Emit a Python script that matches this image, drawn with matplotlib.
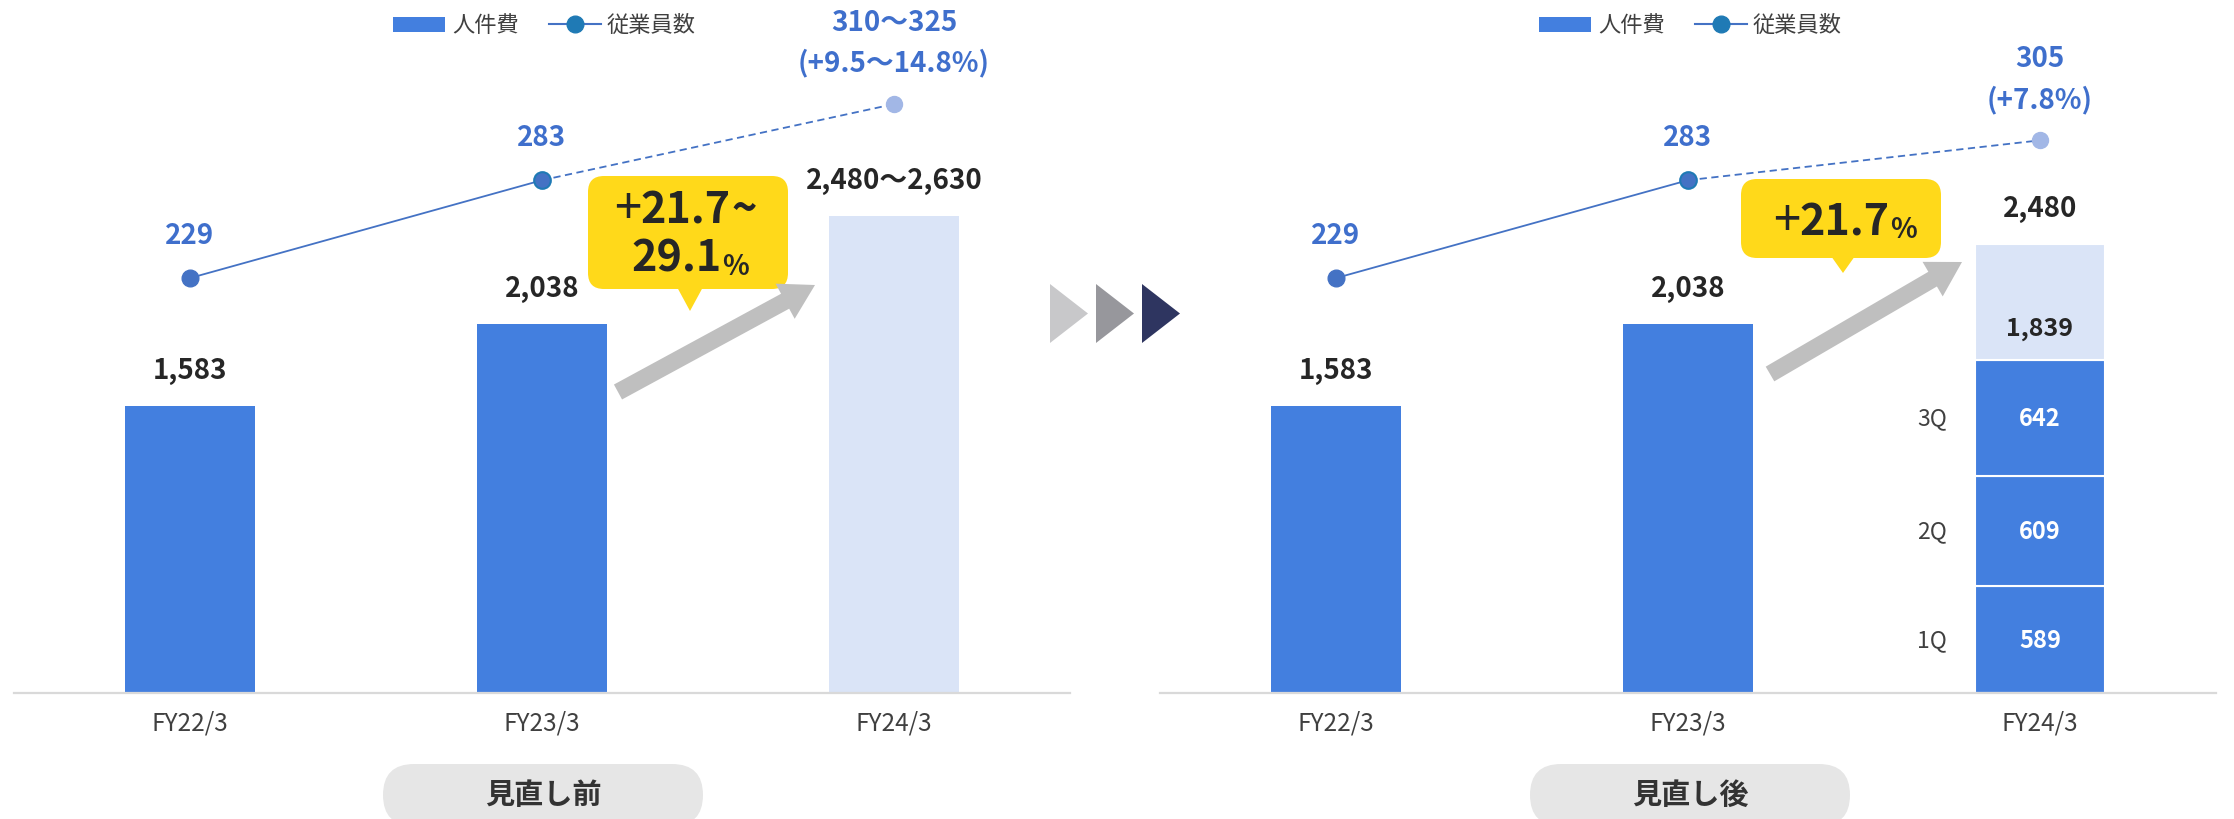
import matplotlib
matplotlib.use('Agg')
import matplotlib.pyplot as plt
from matplotlib.patches import FancyBboxPatch, Polygon, Rectangle, FancyArrow
from matplotlib.lines import Line2D

plt.rcParams['font.family'] = ['Noto Sans CJK JP', 'DejaVu Sans']

# ---------------- data ----------------
categories = ['FY22/3', 'FY23/3', 'FY24/3']

cost_before = [1583, 2038, 2630]          # FY24/3 plan: 2,480～2,630 (bar drawn to upper end)
cost_before_labels = ['1,583', '2,038', '2,480～2,630']
emp_before = [229, 283, 325]
emp_before_labels = [['229'], ['283'], ['310～325', '(+9.5～14.8%)']]

cost_after = [1583, 2038, 2480]
cost_after_labels = ['1,583', '2,038', '2,480']
quarters = ['1Q', '2Q', '3Q']
quarter_values = [589, 609, 642]
cumulative_label = '1,839'
emp_after = [229, 283, 305]
emp_after_labels = [['229'], ['283'], ['305', '(+7.8%)']]

growth_before = ['21.7', '~', '29.1']
growth_after = '21.7'
panel_titles = ['見直し前', '見直し後']
legend_labels = ['人件費', '従業員数']

# ---------------- style ----------------
BLUE = '#437FDF'
LIGHT = '#DAE4F7'
LINE = '#4472C4'
EMP_TXT = '#3F6FCC'
TEAL = '#1F7AB5'
DOT3 = '#A2B7E6'
DARK = '#262626'
GRAY = '#404040'
YELLOW = '#FFD91A'
ARROW = '#BFBFBF'
PILL = '#E6E6E6'

W, H = 2234, 820
PX_PER_UNIT = 0.1812
fig = plt.figure(figsize=(W / 100, H / 100), dpi=100)


def axes_rect(x0, y_top, x1, y_bot):
    return [x0 / W, 1 - y_bot / H, (x1 - x0) / W, (y_bot - y_top) / H]


AX_TOP, AX_BOT = 20, 694
YMAX = (AX_BOT - AX_TOP) / PX_PER_UNIT


def draw_panel(x0, costs, cost_labels, emps, emp_labels, stacked):
    ax = fig.add_axes(axes_rect(x0, AX_TOP, x0 + 1056, AX_BOT))
    ax.set_xlim(-0.5, 2.5)
    ax.set_ylim(0, YMAX)
    for s in ['top', 'left', 'right']:
        ax.spines[s].set_visible(False)
    ax.spines['bottom'].set_color('#D9D9D9')
    ax.spines['bottom'].set_linewidth(1.6)
    ax.set_yticks([])
    xs = list(range(len(categories)))
    ax.set_xticks(xs, categories)
    ax.tick_params(axis='x', length=0, pad=12, labelsize=17.5, labelcolor=GRAY)
    bw = 0.37
    ax.bar(xs[:2], costs[:2], bw, color=BLUE, zorder=2)
    if not stacked:
        ax.bar(xs[2], costs[2], bw, color=LIGHT, zorder=2)
    else:
        bottom = 0
        for q, v in zip(quarters, quarter_values):
            ax.bar(xs[2], v, bw, bottom=bottom, color=BLUE, edgecolor='white',
                   linewidth=1.5, zorder=2)
            ax.annotate(str(v), (xs[2], bottom + v / 2), ha='center', va='center',
                        color='white', fontsize=17, fontweight='bold', zorder=3)
            ax.annotate(q, (xs[2] - bw / 2, bottom + v / 2), xytext=(-20, 0),
                        textcoords='offset points', ha='right', va='center',
                        fontsize=16.5, color=GRAY)
            bottom += v
        ax.bar(xs[2], costs[2] - bottom, bw, bottom=bottom, color=LIGHT,
               edgecolor='white', linewidth=1.5, zorder=2)
        ax.annotate(cumulative_label, (xs[2], bottom), xytext=(0, 23),
                    textcoords='offset points', ha='center', va='center',
                    fontsize=18, fontweight='bold', color=DARK)
    for x, v, lab in zip(xs, costs, cost_labels):
        ax.annotate(lab, (x, v), xytext=(0, 26), textcoords='offset points',
                    ha='center', va='center', fontsize=20, fontweight='bold', color=DARK)

    ax2 = ax.twinx()
    ax2.set_ylim(0, YMAX / 10)
    ax2.axis('off')
    ax2.plot(xs[:2], emps[:2], '-', color=LINE, lw=1.3, zorder=3)
    ax2.plot(xs[1:], emps[1:], color=LINE, lw=1.3, linestyle=(0, (4, 2.5)), zorder=3)
    ax2.plot(xs[0], emps[0], 'o', ms=12, color=LINE, mec=LINE, zorder=4)
    ax2.plot(xs[1], emps[1], 'o', ms=12, color=LINE, mec=TEAL, mew=1.5, zorder=4)
    ax2.plot(xs[2], emps[2], 'o', ms=11.5, color=DOT3, mec=DOT3, zorder=4)
    for x, v, lines in zip(xs, emps, emp_labels):
        offs = [31] if len(lines) == 1 else [59, 30]
        for line, off in zip(lines, offs):
            ax2.annotate(line, (x, v), xytext=(0, off), textcoords='offset points',
                         ha='center', va='center', fontsize=20, fontweight='bold',
                         color=EMP_TXT)
    return ax


draw_panel(14, cost_before, cost_before_labels, emp_before, emp_before_labels, False)
draw_panel(1160, cost_after, cost_after_labels, emp_after, emp_after_labels, True)

# ---------------- overlay (pixel coords) ----------------
ov = fig.add_axes([0, 0, 1, 1])
ov.set_xlim(0, W)
ov.set_ylim(H, 0)
ov.axis('off')
ov.set_zorder(10)
ov.patch.set_alpha(0)

# legends
for dx in (0, 1146):
    ov.add_patch(Rectangle((393 + dx, 18), 52, 15, color=BLUE, lw=0))
    ov.text(452 + dx, 25, legend_labels[0], ha='left', va='center', fontsize=16, color=GRAY)
    ov.add_line(Line2D([549 + dx, 601 + dx], [25, 25], color=LINE, lw=1.5))
    ov.plot(575 + dx, 25, 'o', ms=12, color=TEAL)
    ov.text(607 + dx, 25, legend_labels[1], ha='left', va='center', fontsize=16, color=GRAY)

# callouts
ov.add_patch(FancyBboxPatch((588, 177), 200, 113, boxstyle='round,pad=0,rounding_size=16',
                            fc=YELLOW, ec='none'))
ov.add_patch(Polygon([(677, 288), (703, 288), (690, 312)], closed=True, fc=YELLOW, ec='none'))
ov.add_patch(FancyBboxPatch((1741, 180), 200, 79, boxstyle='round,pad=0,rounding_size=16',
                            fc=YELLOW, ec='none'))
ov.add_patch(Polygon([(1831, 257), (1855, 257), (1843, 274)], closed=True, fc=YELLOW, ec='none'))

BIG = 31


def growth_text(cx, base, num, prefix=None, suffix=None, suffix_size=BIG):
    t = ov.text(cx, base, num, ha='center', va='baseline', fontsize=BIG,
                fontweight='bold', color=DARK)
    if prefix:
        ov.annotate(prefix, xy=(0, 0.5), xycoords=t, ha='right', va='center',
                    fontsize=BIG + 4, fontweight='normal', color=DARK)
    if suffix:
        ov.annotate(suffix, xy=(1, 0), xycoords=t, ha='left', va='bottom',
                    fontsize=suffix_size, fontweight='bold', color=DARK)


growth_text(686, 223, growth_before[0], prefix='+', suffix=growth_before[1])
growth_text(677, 272, growth_before[2], suffix='%', suffix_size=20)
growth_text(1845, 235, growth_after, prefix='+', suffix='%', suffix_size=20)

# gray arrows
for (x0, y0, x1, y1) in [(618, 393, 815, 286), (1770, 375, 1962, 263)]:
    ov.add_patch(FancyArrow(x0, y0, x1 - x0, y1 - y0, width=17, head_width=40,
                            head_length=34, length_includes_head=True,
                            fc=ARROW, ec='none'))

# triple triangles
for xl, c in [(1050, '#C8C8CA'), (1096, '#97979C'), (1142, '#2E3560')]:
    ov.add_patch(Polygon([(xl, 285), (xl, 344), (xl + 38, 314.5)], closed=True, fc=c, ec='none'))

# pills
for cx, title in zip([543, 1690], panel_titles):
    ov.add_patch(FancyBboxPatch((cx - 160, 765), 320, 62,
                                boxstyle='round,pad=0,rounding_size=31', fc=PILL, ec='none'))
    ov.text(cx, 795, title, ha='center', va='center', fontsize=21,
            fontweight='bold', color='#333333')

fig.savefig('out.png', dpi=100)
